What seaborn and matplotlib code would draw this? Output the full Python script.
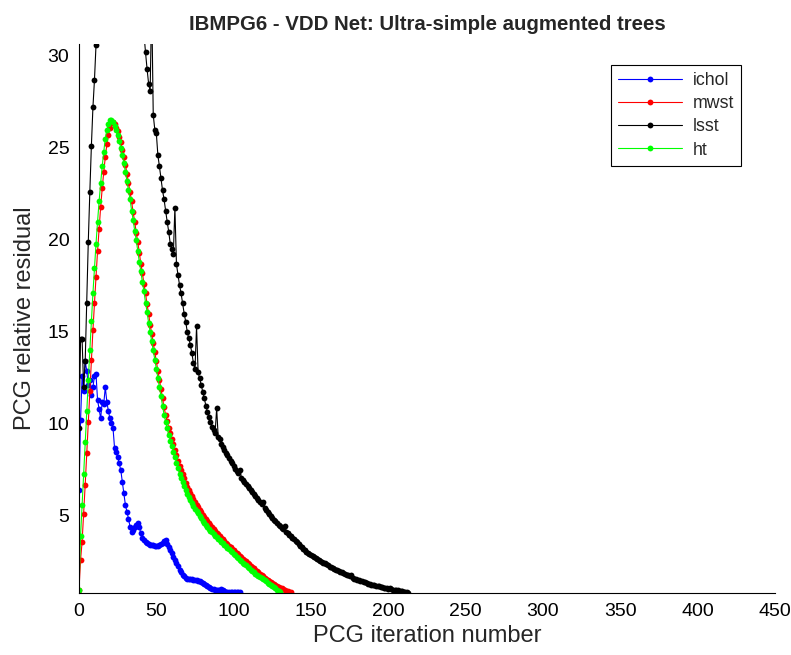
import numpy as np
import pandas as pd
import seaborn as sns
import matplotlib.pyplot as plt
from matplotlib import font_manager

# PCG relative residual per iteration
ichol = [6.4, 10.2, 12.6, 11.8, 13.4, 12.9, 12.1, 12.4, 11.6, 12.0,
         12.6, 12.7, 11.3, 10.8, 10.3, 11.2, 11.1, 12.0, 11.2, 10.7,
         10.3, 10.04, 9.77, 8.68, 8.5, 8.2, 7.86, 7.5, 6.86, 6.23,
         5.6, 5.23, 4.85, 4.42, 4.15, 4.24, 4.4, 4.5, 4.64, 4.4,
         4.05, 3.79, 3.7, 3.6, 3.52, 3.47, 3.44, 3.42, 3.4, 3.38,
         3.37, 3.38, 3.42, 3.48, 3.55, 3.62, 3.7, 3.5, 3.33, 3.15,
         2.97, 2.78, 2.6, 2.45, 2.3, 2.07, 1.95, 1.82, 1.72, 1.65,
         1.6, 1.57, 1.56, 1.55, 1.54, 1.53, 1.52, 1.49, 1.46, 1.43,
         1.37, 1.31, 1.25, 1.19, 1.13, 1.08, 1.05, 1.02, 0.99, 0.98,
         0.99, 1.0, 1.01, 0.96, 0.92, 0.89, 0.88, 0.87, 0.87, 0.87,
         0.87, 0.87, 0.87, 0.87, 0.86]

mwst = [1.0, 2.6, 3.6, 5.1, 6.7, 8.4, 10.1, 11.8, 13.5, 15.1,
        16.6, 18.0, 19.4, 20.6, 21.8, 22.8, 23.7, 24.5, 25.2, 25.7,
        26.1, 26.35, 26.4, 26.3, 26.1, 25.9, 25.6, 25.3, 24.9, 24.5,
        24.1, 23.6, 23.1, 22.6, 22.1, 21.5, 21.0, 20.4, 19.9, 19.3,
        18.7, 18.2, 17.6, 17.1, 16.5, 16.0, 15.4, 14.9, 14.4, 13.9,
        13.4, 12.9, 12.4, 11.9, 11.4, 10.9, 10.5, 10.15, 9.8, 9.5,
        9.2, 8.9, 8.6, 8.3, 8.0, 7.7, 7.48, 7.26, 7.04, 6.82,
        6.6, 6.43, 6.26, 6.09, 5.92, 5.75, 5.61, 5.47, 5.33, 5.19,
        5.05, 4.94, 4.83, 4.72, 4.61, 4.5, 4.4, 4.3, 4.2, 4.1,
        4.0, 3.91, 3.82, 3.73, 3.64, 3.55, 3.47, 3.39, 3.31, 3.23,
        3.15, 3.07, 2.99, 2.91, 2.83, 2.75, 2.68, 2.6, 2.53, 2.45,
        2.38, 2.3, 2.23, 2.15, 2.08, 2.0, 1.93, 1.86, 1.79, 1.72,
        1.65, 1.59, 1.53, 1.47, 1.41, 1.35, 1.3, 1.25, 1.2, 1.15,
        1.1, 1.06, 1.02, 0.98, 0.94, 0.9, 0.87, 0.85]

lsst = [9.8, 14.6, 14.6, 12.0, 13.4, 16.6, 19.9, 22.6, 25.1, 27.2,
        28.7, 30.6, 33.2, 35.8, 38.1, 40.2, 42.0, 43.5, 44.6, 45.4,
        45.9, 46.1, 46.0, 45.7, 45.2, 44.5, 43.7, 42.9, 42.0, 41.1,
        40.2, 39.3, 38.4, 37.5, 36.6, 35.8, 35.0, 34.3, 33.6, 33.0,
        32.4, 31.8, 31.2, 30.2, 29.3, 28.5, 28.1, 33.0, 26.8, 26.0,
        25.8, 24.6, 24.0, 23.35, 22.7, 22.2, 21.6, 21.0, 20.45, 19.8,
        19.5, 19.24, 21.75, 18.7, 18.1, 17.55, 17.1, 16.56, 16.0, 15.56,
        15.0, 14.66, 14.3, 13.84, 13.3, 13.0, 15.3, 12.84, 12.48, 12.1,
        11.76, 11.4, 11.0, 10.67, 10.4, 10.13, 9.85, 9.67, 9.5, 10.85,
        9.3, 9.2, 8.9, 8.75, 8.6, 8.45, 8.3, 8.15, 8.0, 7.86,
        7.72, 7.58, 7.45, 7.32, 7.5, 7.08, 6.96, 6.84, 6.72, 6.61,
        6.5, 6.39, 6.28, 6.17, 6.06, 5.96, 5.86, 5.76, 5.66, 5.75,
        5.42, 5.3, 5.2, 5.1, 5.0, 4.9, 4.8, 4.71, 4.62, 4.53,
        4.44, 4.35, 4.27, 4.45, 4.12, 4.07, 3.98, 3.9, 3.81, 3.73,
        3.64, 3.56, 3.47, 3.39, 3.3, 3.22, 3.14, 3.05, 2.97, 2.92,
        2.87, 2.82, 2.77, 2.72, 2.67, 2.62, 2.57, 2.52, 2.47, 2.42,
        2.37, 2.32, 2.25, 2.21, 2.17, 2.13, 2.09, 2.05, 2.01, 1.97,
        1.93, 1.89, 1.85, 1.81, 1.77, 1.73, 1.78, 1.63, 1.6, 1.57,
        1.54, 1.51, 1.48, 1.45, 1.42, 1.39, 1.36, 1.33, 1.3, 1.27,
        1.25, 1.23, 1.21, 1.19, 1.17, 1.15, 1.13, 1.11, 1.09, 1.07,
        1.05, 1.1, 1.02, 1.0, 0.99, 0.98, 0.96, 0.94, 0.92, 0.9,
        0.88, 0.86, 0.85, 0.83]

ht = [1.0, 3.9, 5.6, 7.3, 9.0, 10.7, 12.4, 14.0, 15.6, 17.1,
      18.5, 19.8, 21.0, 22.1, 23.1, 24.0, 24.8, 25.5, 26.0, 26.3,
      26.5, 26.5, 26.4, 26.2, 26.0, 25.7, 25.4, 25.0, 24.6, 24.2,
      23.7, 23.2, 22.7, 22.2, 21.6, 21.1, 20.5, 20.0, 19.4, 18.8,
      18.3, 17.7, 17.2, 16.6, 16.1, 15.5, 15.0, 14.5, 14.0, 13.5,
      13.0, 12.5, 12.0, 11.5, 11.0, 10.5, 10.12, 9.76, 9.42, 9.1,
      8.8, 8.49, 8.19, 7.9, 7.6, 7.3, 7.08, 6.86, 6.64, 6.42,
      6.2, 6.04, 5.88, 5.72, 5.56, 5.4, 5.27, 5.14, 5.01, 4.88,
      4.75, 4.64, 4.53, 4.42, 4.31, 4.2, 4.11, 4.02, 3.93, 3.84,
      3.75, 3.67, 3.59, 3.51, 3.43, 3.35, 3.27, 3.19, 3.11, 3.03,
      2.95, 2.87, 2.79, 2.71, 2.63, 2.55, 2.47, 2.39, 2.31, 2.23,
      2.15, 2.08, 2.01, 1.94, 1.87, 1.8, 1.74, 1.68, 1.62, 1.56,
      1.5, 1.44, 1.38, 1.32, 1.26, 1.2, 1.13, 1.06, 0.99, 0.92,
      0.86]

series_names = ['ichol', 'mwst', 'lsst', 'ht']
series_values = [ichol, mwst, lsst, ht]
series_colors = ['#0000ff', '#ff0000', '#000000', '#00ff00']
x_ticks = [0, 50, 100, 150, 200, 250, 300, 350, 400, 450]
y_ticks = [5, 10, 15, 20, 25, 30]

sns.set_style('white')
installed = {f.name for f in font_manager.fontManager.ttflist}
narrow = 'Liberation Sans Narrow' in installed
plt.rcParams['font.family'] = (['Liberation Sans Narrow'] if narrow else []) + ['Liberation Sans', 'DejaVu Sans']
k = 1.0 if narrow else 0.85

fig = plt.figure(figsize=(7.91, 6.55), dpi=100)
ax = fig.add_axes([79 / 791, 62 / 655, 696 / 791, 549 / 655])

for name, vals, col in zip(series_names, series_values, series_colors):
    df = pd.DataFrame({'iteration': np.arange(len(vals)), 'residual': vals})
    sns.lineplot(data=df, x='iteration', y='residual', ax=ax, color=col,
                 marker='o', markersize=4.2, mec=col, mew=0, linewidth=0.8,
                 label=name)

ax.set_xlim(0, 450)
ax.set_ylim(0.815, 30.65)
ax.set_xticks(x_ticks)
ax.set_yticks(y_ticks)
ax.tick_params(direction='in', length=5, width=0.8, labelsize=16.5 * k, pad=7, colors='black')
for s in ['top', 'right']:
    ax.spines[s].set_visible(False)
for s in ['left', 'bottom']:
    ax.spines[s].set_color('black')
    ax.spines[s].set_linewidth(0.8)

ax.set_xlabel('PCG iteration number', fontsize=20 * k, labelpad=4)
ax.set_ylabel('PCG relative residual', fontsize=20 * k, labelpad=8)
ax.set_title('IBMPG6 - VDD Net: Ultra-simple augmented trees', fontsize=17.3 * k,
             fontweight='bold', pad=10)

leg = ax.legend(loc='upper left', bbox_to_anchor=(611 / 791, 1 - 65 / 655),
                bbox_transform=fig.transFigure, borderaxespad=0, fontsize=15 * k,
                handlelength=3.6, handletextpad=0.6, labelspacing=0.35,
                fancybox=False, framealpha=1, edgecolor='black')
leg.get_frame().set_linewidth(0.8)

fig.savefig('out.png', dpi=100)
